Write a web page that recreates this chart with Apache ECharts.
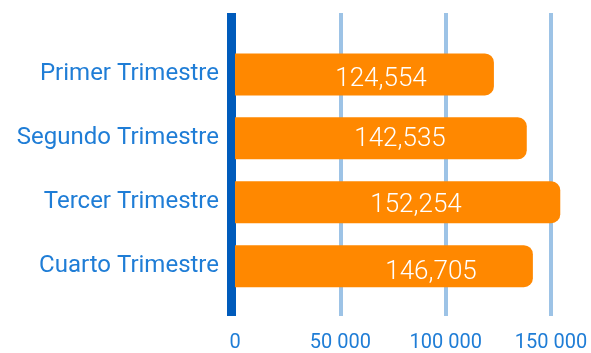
<!DOCTYPE html>
<html>
<head>
<meta charset="utf-8">
<script src="https://cdn.jsdelivr.net/npm/echarts@6/dist/echarts.min.js"></script>
<style>
html,body{margin:0;padding:0;background:#fff;}
#c{width:591px;height:353px;}
</style>
</head>
<body>
<div id="c"></div>
<script>
// Data
const categories = ['Primer Trimestre', 'Segundo Trimestre', 'Tercer Trimestre', 'Cuarto Trimestre'];
const barValues = [122900, 138500, 154400, 141400];
const valueLabels = ['124,554', '142,535', '152,254', '146,705'];
const tickLabels = ['0', '50 000', '100 000', '150 000'];
const tickValues = [0, 50000, 100000, 150000];

const TEXT_BLUE = '#1F7DD6';
const labelShift = [[146, 5], [165, 1], [181, 3], [196, 6]];

const chart = echarts.init(document.getElementById('c'), null, {renderer: 'canvas'});
const fmtTick = v => {
  const i = tickValues.indexOf(v);
  return i >= 0 ? tickLabels[i] : '';
};

chart.setOption({
  animation: false,
  backgroundColor: '#ffffff',
  grid: [
    {left: 235, right: 40, top: 13, height: 310},
    {left: 235, right: 40, top: 42.5, height: 255.6}
  ],
  xAxis: [
    {
      gridIndex: 0, type: 'value', min: 0, max: 150000, interval: 50000,
      axisLine: {show: false}, axisTick: {show: false},
      splitLine: {show: true, showMinLine: false, lineStyle: {color: '#9DC3E6', width: 4, cap: 'butt'}},
      axisLabel: {formatter: fmtTick, color: TEXT_BLUE, fontFamily: 'Roboto', fontSize: 20, margin: 17}
    },
    {
      gridIndex: 1, type: 'value', min: 0, max: 150000, interval: 50000,
      show: false, splitLine: {show: false}
    }
  ],
  yAxis: [
    {
      gridIndex: 0, type: 'category', data: [''], offset: 4,
      axisLine: {show: true, onZero: false, lineStyle: {color: '#005BBB', width: 9, cap: 'butt'}},
      axisTick: {show: false}, axisLabel: {show: false}, splitLine: {show: false}
    },
    {
      gridIndex: 1, type: 'category', data: categories, inverse: true,
      axisLine: {show: false}, axisTick: {show: false}, splitLine: {show: false},
      axisLabel: {color: TEXT_BLUE, fontFamily: 'Roboto', fontSize: 24, margin: 16}
    }
  ],
  series: [
    {
      type: 'bar', xAxisIndex: 1, yAxisIndex: 1, clip: false,
      barWidth: 42,
      itemStyle: {color: '#FF8800', borderRadius: [0, 9, 9, 0]},
      data: barValues.map((v, i) => ({
        value: v,
        label: {offset: labelShift[i]}
      })),
      label: {
        show: true, position: 'insideLeft', distance: 0, align: 'center',
        color: '#ffffff', fontFamily: 'Roboto', fontWeight: 300, fontSize: 26,
        formatter: p => valueLabels[p.dataIndex]
      }
    }
  ]
});
</script>
</body>
</html>
